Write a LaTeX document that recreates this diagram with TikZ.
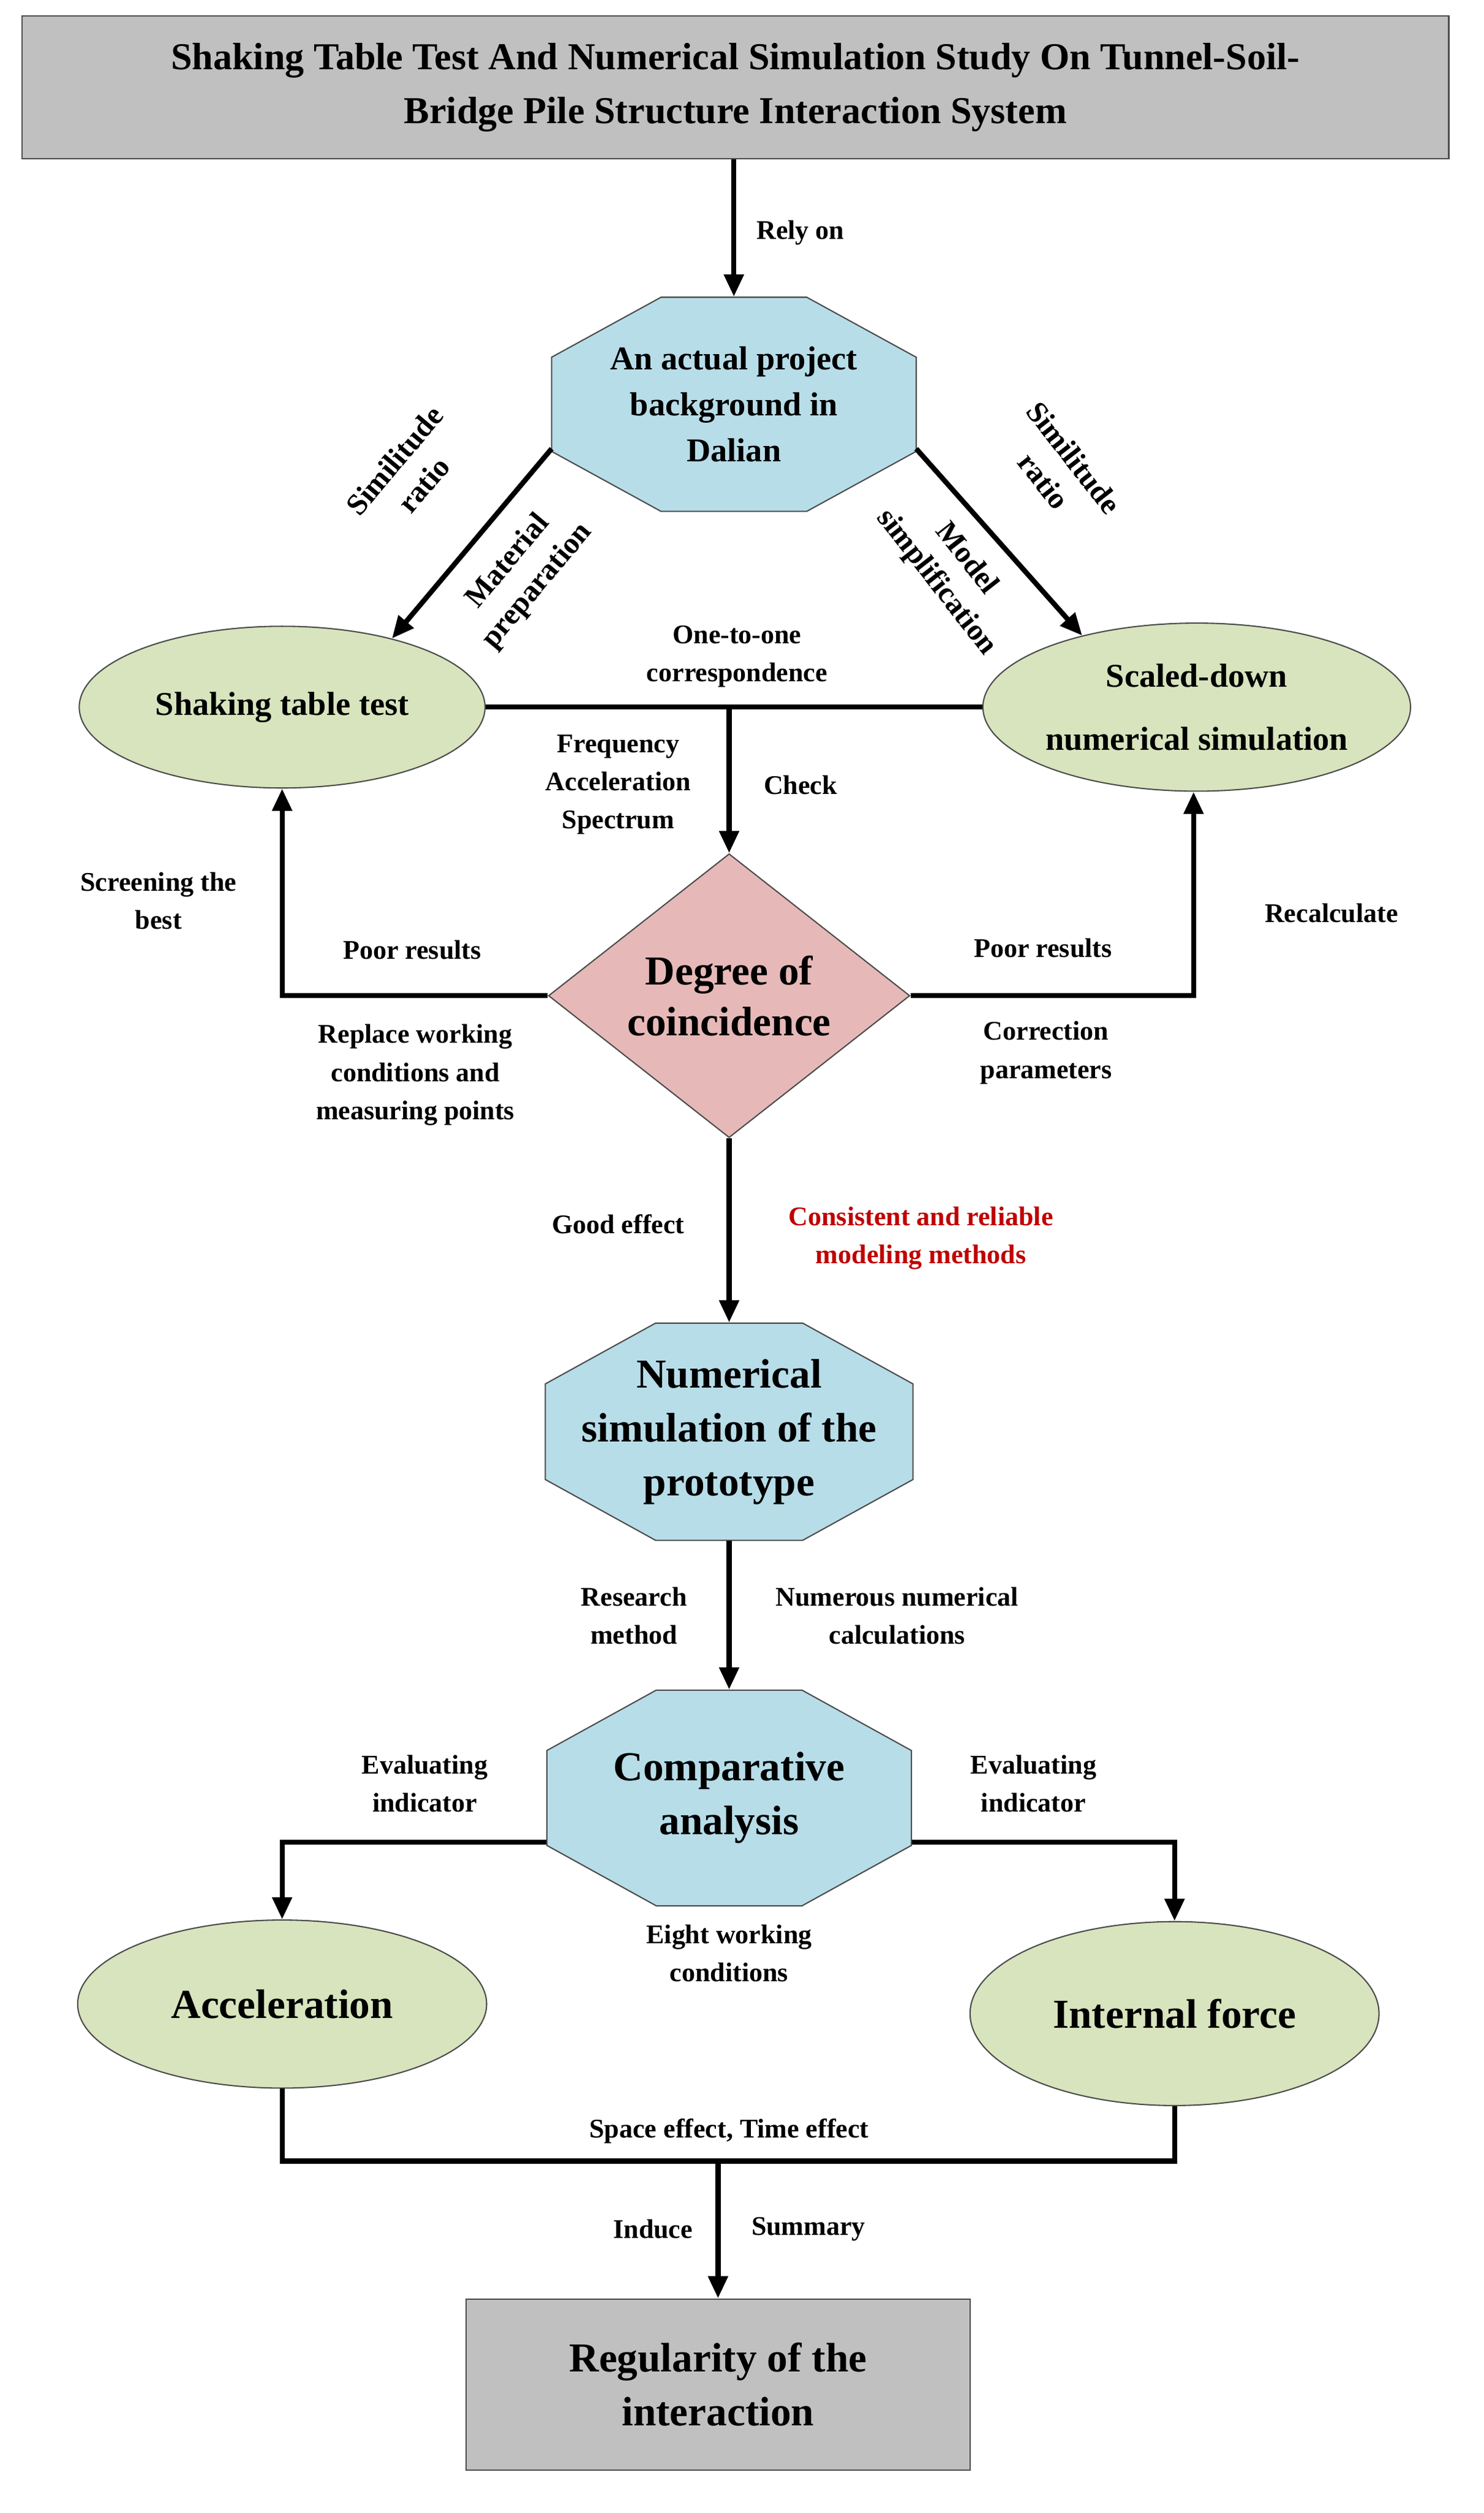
\documentclass[tikz,border=0pt]{standalone}
\usepackage{fontspec}
\setmainfont{Liberation Serif}
\usetikzlibrary{shapes.geometric,arrows.meta,calc}
\definecolor{boxgray}{HTML}{C0C0C0}
\definecolor{octblue}{HTML}{B7DDE8}
\definecolor{ellgreen}{HTML}{D7E4BD}
\definecolor{diapink}{HTML}{E6B9B8}
\definecolor{redtxt}{HTML}{C00000}
\newcommand\octnode[8]{% name,cx,cy,w,h,fontsize,baselineskip,text
  \fill[octblue,draw=black!70,line width=0.4pt]
    ({#2-#4/2+0.3*#4},{#3-#5/2}) -- ({#2+#4/2-0.3*#4},{#3-#5/2}) --
    ({#2+#4/2},{#3-#5/2+0.28*#5}) -- ({#2+#4/2},{#3+#5/2-0.28*#5}) --
    ({#2+#4/2-0.3*#4},{#3+#5/2}) -- ({#2-#4/2+0.3*#4},{#3+#5/2}) --
    ({#2-#4/2},{#3+#5/2-0.28*#5}) -- ({#2-#4/2},{#3-#5/2+0.28*#5}) -- cycle;
  \node[minimum width=#4*0.5pt,minimum height=#5*0.5pt,inner sep=0,align=center,font=\bfseries\fontsize{#6}{#7}\selectfont] (#1) at (#2,#3) {#8};}
\begin{document}
\begin{tikzpicture}[x=0.5pt,y=-0.5pt,
  lbl/.style={font=\bfseries\fontsize{8.5}{12}\selectfont,align=center,inner sep=1pt},
  rlbl/.style={font=\bfseries\fontsize{9.5}{12}\selectfont,align=center,inner sep=0pt},
  ell/.style={ellipse,draw=black!70,fill=ellgreen,line width=0.4pt,inner sep=0,align=center},
  arr/.style={line width=1.6pt,-{Triangle[length=7pt,width=6pt]}},
  ln/.style={line width=1.6pt}]
\useasboundingbox (0,0) rectangle (936,1585);
% title
\node[draw=black!70,fill=boxgray,minimum width=450pt,minimum height=45pt,align=center,font=\bfseries\fontsize{12}{17}\selectfont] (title) at (464,55) {Shaking Table Test And Numerical Simulation Study On Tunnel-Soil-\\Bridge Pile Structure Interaction System};
\octnode{o1}{463}{255}{230}{135}{10.5}{14.5}{An actual project\\background in\\Dalian}
\node[ell,minimum width=128pt,minimum height=51pt,font=\bfseries\fontsize{10.5}{13}\selectfont] (shk) at (178,446) {Shaking table test};
\node[ell,minimum width=130pt,minimum height=53pt,font=\bfseries\fontsize{10.5}{20}\selectfont] (sim) at (755,446) {Scaled-down\\numerical simulation};
\node[diamond,draw=black!70,fill=diapink,minimum width=114pt,minimum height=85.5pt,inner sep=0,align=center,font=\bfseries\fontsize{13}{16}\selectfont] (dg) at (460,628) {Degree of\\coincidence};
\octnode{o2}{460}{903}{232}{137}{13}{17}{Numerical\\simulation of the\\prototype}
\octnode{o3}{460}{1134}{230}{136}{13}{17}{Comparative\\analysis}
\node[ell,minimum width=129pt,minimum height=53pt,font=\bfseries\fontsize{13}{16}\selectfont] (acc) at (178,1264) {Acceleration};
\node[ell,minimum width=129pt,minimum height=58pt,font=\bfseries\fontsize{13}{16}\selectfont] (intf) at (741,1270) {Internal force};
\node[draw=black!70,fill=boxgray,minimum width=159pt,minimum height=54pt,align=center,font=\bfseries\fontsize{13}{17}\selectfont] (reg) at (453,1504) {Regularity of the\\interaction};
% connectors
\draw[arr] (title.south -| o1.north) -- (o1.north);
\coordinate (o1l) at (348,283);
\coordinate (o1r) at (578,283);
\draw[arr] (o1l) -- (shk.32);
\draw[arr] (o1r) -- (sim.148);
\draw[ln] (shk.east) -- (sim.west);
\coordinate (mid) at (460,446);
\draw[arr] (mid) -- (dg.north);
\coordinate (dl) at (178,628);
\coordinate (dr) at (753,628);
\draw[arr] (dg.west) -- (dl) -- (shk.south);
\draw[arr] (dg.east) -- (dr) -- (sim.south -| dr);
\draw[arr] (dg.south) -- (o2.north);
\draw[arr] (o2.south) -- (o3.north);
\coordinate (al) at (178,1162);
\coordinate (ar) at (741,1162);
\draw[arr] ($(o3.west)+(0,28)$) -- (al) -- (acc.north);
\draw[arr] ($(o3.east)+(0,28)$) -- (ar) -- (intf.north);
\coordinate (bl) at (178,1363);
\coordinate (br) at (741,1363);
\coordinate (bm) at (453,1363);
\draw[ln] (acc.south) -- (bl) -- (br) -- (intf.south);
\draw[arr] (bm) -- (reg.north);
% labels
\node[lbl] (l1) at (505,147) {Rely on};
\node[rlbl,rotate=50] (l2) at (258,298) {Similitude\\ratio};
\node[rlbl,rotate=50] (l3) at (330,362) {Material\\preparation};
\node[rlbl,rotate=-52] (l4) at (668,296) {Similitude\\ratio};
\node[rlbl,rotate=-52] (l5) at (600,360) {Model\\simplification};
\node[lbl] (l6) at (465,414) {One-to-one\\correspondence};
\node[lbl] (l7) at (390,495) {Frequency\\Acceleration\\Spectrum};
\node[lbl] (l8) at (505,495) {Check};
\node[lbl] (l9) at (100,568) {Screening the\\best};
\node[lbl] (l10) at (260,599) {Poor results};
\node[lbl] (l11) at (262,678) {Replace working\\conditions and\\measuring points};
\node[lbl] (l12) at (658,598) {Poor results};
\node[lbl] (l13) at (840,576) {Recalculate};
\node[lbl] (l14) at (660,664) {Correction\\parameters};
\node[lbl] (l15) at (390,772) {Good effect};
\node[lbl,text=redtxt] (l16) at (581,781) {Consistent and reliable\\modeling methods};
\node[lbl] (l17) at (400,1019) {Research\\method};
\node[lbl] (l18) at (566,1019) {Numerous numerical\\calculations};
\node[lbl] (l19) at (268,1125) {Evaluating\\indicator};
\node[lbl] (l20) at (652,1125) {Evaluating\\indicator};
\node[lbl] (l21) at (460,1232) {Eight working\\conditions};
\node[lbl] (l22) at (460,1344) {Space effect, Time effect};
\node[lbl] (l23) at (412,1406) {Induce};
\node[lbl] (l24) at (510,1406) {Summary};
\end{tikzpicture}
\end{document}
